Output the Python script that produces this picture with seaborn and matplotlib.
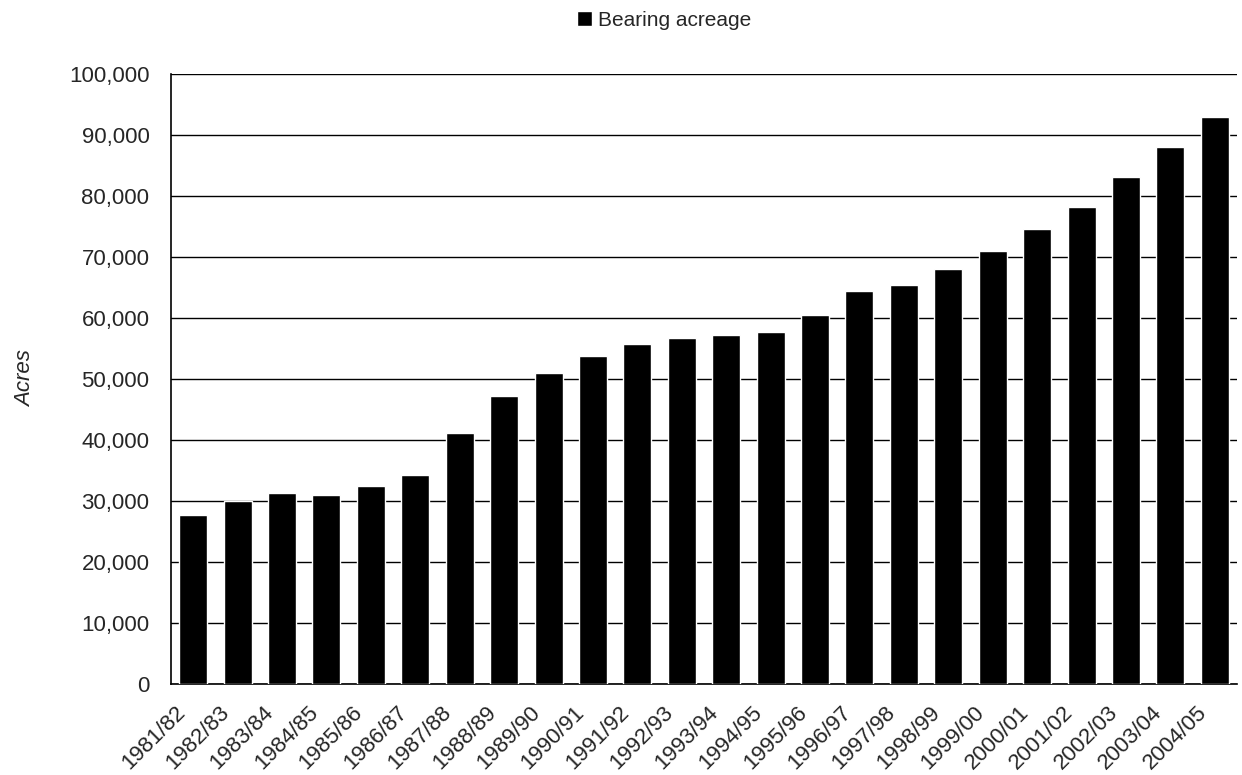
import matplotlib
matplotlib.use("Agg")
import matplotlib.pyplot as plt
import matplotlib.transforms as mtransforms
from matplotlib.ticker import FuncFormatter, MultipleLocator, FixedLocator
import numpy as np
import pandas as pd
import seaborn as sns

seasons = ["1981/82", "1982/83", "1983/84", "1984/85", "1985/86", "1986/87",
           "1987/88", "1988/89", "1989/90", "1990/91", "1991/92", "1992/93",
           "1993/94", "1994/95", "1995/96", "1996/97", "1997/98", "1998/99",
           "1999/00", "2000/01", "2001/02", "2002/03", "2003/04", "2004/05"]
bearing_acres = [27700, 30000, 31300, 31000, 32500, 34300,
                 41100, 47200, 51000, 53800, 55700, 56700,
                 57200, 57700, 60500, 64400, 65400, 68000,
                 71000, 74600, 78200, 83100, 88000, 93000]
series_name = "Bearing acreage"

sns.set_style("white")
plt.rcParams["font.family"] = ["Liberation Sans", "DejaVu Sans"]

df = pd.DataFrame({"season": seasons, "acres": bearing_acres})

fig = plt.figure(figsize=(12.42, 7.75), dpi=100)
ax = fig.add_axes([0.1377, 0.1174, 0.996 - 0.1377, 0.9045 - 0.1174])

sns.barplot(data=df, x="season", y="acres", color="black", width=0.63,
            saturation=1, ax=ax, label=series_name, zorder=3)

ax.set_ylim(0, 100000)
ax.set_xlim(-0.5, len(seasons) - 0.5)
ax.yaxis.set_major_locator(MultipleLocator(10000))
ax.yaxis.set_minor_locator(MultipleLocator(5000))
ax.yaxis.set_major_formatter(FuncFormatter(lambda v, p: f"{int(v):,}"))
ax.grid(axis="y", which="major", color="black", linewidth=1.0, zorder=0)
ax.set_axisbelow(True)

# category boundary ticks on x
ax.xaxis.set_minor_locator(FixedLocator(np.arange(-0.5, len(seasons), 1.0)))
ax.tick_params(axis="x", which="major", length=0, labelsize=16, pad=13)
ax.tick_params(axis="x", which="minor", direction="inout", length=11, width=1, color="black")
ax.tick_params(axis="y", which="major", direction="out", length=6, width=1,
               color="black", labelsize=16, pad=9.5)
ax.tick_params(axis="y", which="minor", direction="out", length=5, width=1, color="black")

offset = mtransforms.ScaledTranslation(-4 / 100, 0, fig.dpi_scale_trans)
for lbl in ax.get_xticklabels():
    lbl.set_rotation(45)
    lbl.set_ha("right")
    lbl.set_transform(lbl.get_transform() + offset)

for side in ["top", "right"]:
    ax.spines[side].set_visible(False)
for side in ["left", "bottom"]:
    ax.spines[side].set_color("black")
    ax.spines[side].set_linewidth(1.2)

ax.set_xlabel("")
ax.set_ylabel("Acres", fontsize=16, fontstyle="italic")
ax.yaxis.set_label_coords(-0.127, 0.5)

if ax.get_legend() is not None:
    ax.get_legend().remove()
handles, labels = ax.get_legend_handles_labels()
fig.legend(handles[:1], labels[:1], loc="center", bbox_to_anchor=(0.5346, 0.974),
           frameon=False, fontsize=15, handlelength=0.72, handleheight=0.72,
           handletextpad=0.3)

fig.savefig("out.png", dpi=100)
